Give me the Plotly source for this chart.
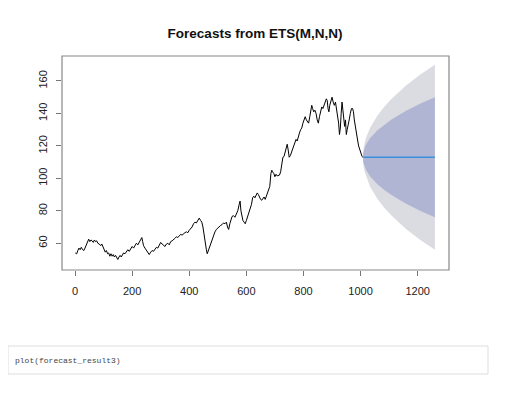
import plotly.graph_objects as go

# Historical series (approx.)
hist_t = [1, 6, 10, 14, 18, 22, 27, 31, 35, 40, 44, 48, 52, 56, 60, 64, 68, 72, 76, 80, 85, 90, 94, 98,
          102, 106, 110, 114, 118, 122, 126, 130, 134, 138, 142, 146, 150, 154, 158, 162, 166, 170,
          175, 180, 185, 190, 195, 200, 205, 210, 215, 220, 225, 230, 234, 237, 240, 245, 250, 255,
          260, 265, 270, 275, 280, 285, 290, 295, 300, 305, 310, 315, 320, 325, 330, 335, 340, 345,
          350, 355, 360, 365, 370, 375, 380, 385, 390, 395, 400, 405, 410, 415, 420, 425, 430, 435,
          440, 444, 448, 451, 454, 457, 460, 463, 466, 470, 474, 478, 482, 486, 490, 495, 500, 505,
          510, 515, 520, 525, 530, 534, 538, 542, 546, 550, 555, 560, 565, 570, 575, 578, 581, 584,
          588, 592, 596, 600, 605, 610, 614, 618, 622, 626, 630, 634, 638, 642, 646, 650, 654, 658,
          662, 666, 670, 674, 678, 682, 686, 689, 692, 696, 700, 704, 708, 712, 716, 720, 724, 728,
          732, 736, 740, 743, 746, 750, 754, 758, 762, 766, 770, 774, 778, 782, 786, 790, 794, 798,
          802, 806, 810, 814, 818, 822, 826, 829, 832, 836, 840, 844, 848, 852, 856, 860, 864, 868,
          872, 876, 880, 883, 886, 889, 892, 896, 900, 904, 908, 912, 916, 920, 923, 926, 929, 932,
          935, 938, 941, 944, 947, 950, 953, 956, 960, 964, 968, 972, 975, 978, 981, 984, 987, 990,
          993, 996, 999, 1002, 1005, 1008]
hist_v = [54, 53.5, 55.5, 57, 56, 57.5, 56, 55.5, 57, 59, 61, 62.5, 61, 62, 61.5, 60.5, 62, 61, 61.5, 60,
          59.5, 58.5, 59.5, 57.5, 56, 54.5, 55.5, 53.5, 54, 52, 53.5, 52, 53, 51.5, 52.5, 51, 50, 51.5,
          52.5, 51.5, 53, 54, 53.5, 55, 56, 55, 56.5, 58, 57, 59, 60, 59, 61, 62, 63.5, 61, 58.5, 57,
          55.5, 54, 53, 54.5, 55.5, 55, 56.5, 57.5, 57, 59, 60.5, 59.5, 58.5, 58, 59.5, 60, 59, 61,
          61.5, 62, 63, 64, 63.5, 64.5, 65.5, 65, 66, 66.5, 67, 66.5, 68, 69, 70, 72, 73, 72.5, 74,
          75.5, 74, 73, 70, 66, 63, 60, 56, 53.5, 55, 57, 60, 62, 64, 66, 67, 68.5, 69.5, 70.5, 71,
          71.5, 72.5, 72, 73, 70, 68.5, 72, 75, 76.5, 77, 76, 78, 80, 84, 86, 80, 76, 74, 73, 72, 74,
          77, 80, 81, 84, 88, 89, 88, 90, 91, 90, 88, 87, 86.5, 88, 88.5, 87, 89, 90, 92, 95, 103,
          105, 104, 103, 101, 102.5, 101.5, 102, 102, 104, 110, 113, 113.5, 116, 120, 121, 118, 113,
          114, 116, 118, 120, 123, 124, 123, 126, 128, 130, 131, 134, 136, 138, 136, 135, 134, 138,
          143, 145, 143, 141, 142, 140, 136, 134, 138, 142, 144, 143, 146, 147, 149, 148, 143, 141,
          145, 148, 150, 147, 145, 147, 143, 139, 134, 127, 131, 140, 147, 142, 136, 132, 136, 127,
          130, 134, 136, 140, 143, 143, 141, 136, 132, 129, 127, 123, 120, 118, 116, 114, 113.5, 113]

# Forecast
fc_t = [1009, 1011, 1014, 1020, 1033, 1058, 1083, 1108, 1158, 1208, 1260]
fc_mean = [113, 113, 113, 113, 113, 113, 113, 113, 113, 113, 113]
upper80 = [115.3, 117, 118.7, 121.1, 124.7, 129.5, 133.2, 136.3, 141.5, 146, 150]
lower80 = [110.7, 109, 107.3, 104.9, 101.3, 96.5, 92.8, 89.7, 84.5, 80, 76]
upper95 = [116.6, 119.2, 121.8, 125.4, 131, 138.4, 144.1, 148.9, 157, 163.8, 170]
lower95 = [109.4, 106.8, 104.2, 100.6, 95, 87.6, 81.9, 77.1, 69, 62.2, 56]

x_ticks = [0, 200, 400, 600, 800, 1000, 1200]
y_ticks = [60, 80, 100, 120, 140, 160]

W, H = 507, 388  # page body has an 8px margin

fig = go.Figure()
fig.add_trace(go.Scatter(x=fc_t + fc_t[::-1], y=upper95 + lower95[::-1], fill="toself",
                         fillcolor="#DBDBE2", line=dict(width=0), mode="lines", hoverinfo="skip"))
fig.add_trace(go.Scatter(x=fc_t + fc_t[::-1], y=upper80 + lower80[::-1], fill="toself",
                         fillcolor="#B1B5D4", line=dict(width=0), mode="lines", hoverinfo="skip"))
fig.add_trace(go.Scatter(x=hist_t, y=hist_v, mode="lines", line=dict(color="black", width=1)))
fig.add_trace(go.Scatter(x=fc_t, y=fc_mean, mode="lines", line=dict(color="#3A8FDB", width=1.5)))

axis_font = dict(family="Liberation Sans, Arial", size=11, color="#222")
fig.update_layout(
    width=W, height=H, showlegend=False,
    paper_bgcolor="white", plot_bgcolor="white",
    margin=dict(l=0, r=0, t=0, b=0),
    title=dict(text="<b>Forecasts from ETS(M,N,N)</b>", x=247 / W, xanchor="center",
               y=1 - 25 / H, yanchor="middle",
               font=dict(family="Liberation Sans, Arial", size=13.5, color="#111")),
    xaxis=dict(domain=[54 / W, 441 / W], range=[-45.5, 1309.5], tickvals=x_ticks,
               ticks="outside", ticklen=5, tickcolor="#777", showgrid=False, zeroline=False,
               showline=False, tickfont=axis_font, ticklabelstandoff=6),
    yaxis=dict(domain=[(H - 262) / H, (H - 48) / H], range=[43.5, 175.4], tickvals=y_ticks,
               ticks="outside", ticklen=5, tickcolor="#777", showgrid=False, zeroline=False,
               showline=False, tickangle=-90, tickfont=axis_font, ticklabelstandoff=5),
)
fig.add_shape(type="rect", xref="x domain", yref="y domain", x0=0, x1=1, y0=0, y1=1,
              line=dict(color="#888", width=1.2))
# code cell below chart
fig.add_shape(type="rect", xref="paper", yref="paper", x0=0 / W, x1=480 / W,
              y0=1 - 366 / H, y1=1 - 338 / H, line=dict(color="#DDDDDD", width=1),
              fillcolor="white")
fig.add_annotation(text="plot(forecast_result3)", xref="paper", yref="paper", x=5 / W,
                   y=1 - 352 / H, xanchor="left", yanchor="middle", showarrow=False,
                   font=dict(family="Liberation Mono, DejaVu Sans Mono", size=8, color="#444"))

fig.write_html("out.html")
